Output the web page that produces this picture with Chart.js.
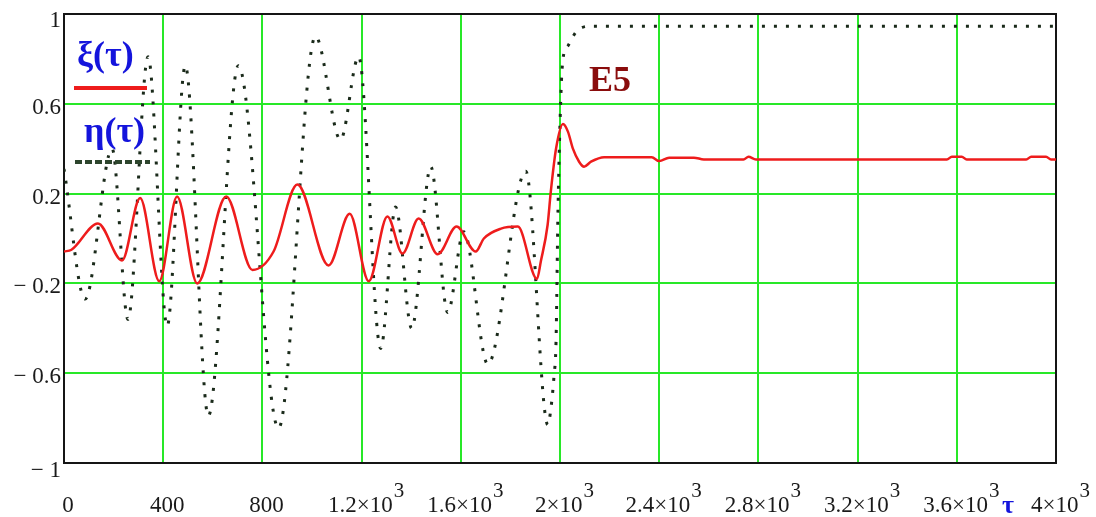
<!DOCTYPE html>
<html><head><meta charset="utf-8">
<script src="https://cdn.jsdelivr.net/npm/chart.js@4.4.0/dist/chart.umd.min.js"></script>
<style>html,body{margin:0;padding:0;background:#fff;}canvas{display:block;}</style>
</head><body>
<canvas id="c" width="1096" height="517" style="width:1096px;height:517px"></canvas>
<script>
// ξ(τ) — solid red
const tauXi = [0, 30, 137, 234, 307, 384, 456, 537, 654, 760, 845, 941, 1067, 1152, 1229, 1304, 1365, 1430, 1507, 1583, 1660, 1693, 1762, 1830, 1907, 1923, 1950, 1963, 1984, 2012, 2032, 2052, 2077, 2097, 2125, 2178, 2370, 2400, 2440, 2540, 2580, 2740, 2760, 2790, 3560, 3580, 3620, 3640, 3880, 3900, 3960, 3980, 4000];
const xi = [-0.058, -0.05, 0.067, -0.098, 0.18, -0.19, 0.187, -0.2, 0.187, -0.14, -0.058, 0.24, -0.12, 0.11, -0.19, 0.098, -0.067, 0.089, -0.07, 0.053, -0.058, 0.0, 0.044, 0.053, -0.18, -0.1, 0.06, 0.21, 0.4, 0.51, 0.476, 0.4, 0.342, 0.32, 0.342, 0.362, 0.362, 0.345, 0.36, 0.36, 0.352, 0.352, 0.364, 0.352, 0.352, 0.364, 0.364, 0.352, 0.352, 0.364, 0.364, 0.352, 0.352];
// η(τ) — dotted
const tauEta = [0, 85, 194, 258, 339, 416, 489, 582, 703, 865, 1014, 1115, 1188, 1277, 1337, 1402, 1479, 1547, 1612, 1709, 1862, 1951, 1963, 1976, 1984, 1992, 2004, 2012, 2033, 2065, 2113, 4000];
const eta = [0.31, -0.27, 0.40, -0.36, 0.81, -0.39, 0.77, -0.79, 0.77, -0.845, 0.90, 0.44, 0.81, -0.49, 0.14, -0.40, 0.32, -0.33, 0.03, -0.56, 0.30, -0.83, -0.76, -0.61, -0.46, 0.13, 0.65, 0.80, 0.86, 0.92, 0.945, 0.945];

const xTickValues = [0, 400, 800, 1200, 1600, 2000, 2400, 2800, 3200, 3600, 4000];
const xTickBase = ['0', '400', '800', '1.2×10', '1.6×10', '2×10', '2.4×10', '2.8×10', '3.2×10', '3.6×10', '4×10'];
const xTickSup = ['', '', '', '3', '3', '3', '3', '3', '3', '3', '3'];
const yTickValues = [-1, -0.6, -0.2, 0.2, 0.6, 1];
const yTickLabels = ['− 1', '− 0.6', '− 0.2', '0.2', '0.6', '1'];
const seriesNames = ['ξ(τ)', 'η(τ)'];
const axisName = 'τ';
const annotationText = 'E5';

const GREEN = 'rgb(40,232,40)';
const SERIF = '"Liberation Serif", "DejaVu Serif", serif';

const decor = {
  id: 'decor',
  beforeDatasetsDraw(chart) {
    const ctx = chart.ctx, a = chart.chartArea;
    ctx.save();
    ctx.strokeStyle = '#151515';
    ctx.lineWidth = 2;
    ctx.strokeRect(a.left, a.top, a.right - a.left, a.bottom - a.top);
    ctx.restore();
  },
  afterDraw(chart) {
    const ctx = chart.ctx, xs = chart.scales.x, ys = chart.scales.y;
    ctx.save();
    ctx.fillStyle = '#1a1a1a';
    ctx.textBaseline = 'alphabetic';
    // y labels
    ctx.font = '23px ' + SERIF;
    ctx.textAlign = 'right';
    yTickValues.forEach((v, i) => {
      let py = ys.getPixelForValue(v) + 10;
      if (i === yTickValues.length - 1) py += 3;
      if (i === 0) py += 4;
      ctx.fillText(yTickLabels[i], 61, py);
    });
    // x labels
    ctx.textAlign = 'left';
    xTickValues.forEach((v, i) => {
      const px = xs.getPixelForValue(v) + 4;
      ctx.font = '23px ' + SERIF;
      const wb = ctx.measureText(xTickBase[i]).width;
      ctx.font = '21px ' + SERIF;
      const ws = xTickSup[i] ? ctx.measureText(xTickSup[i]).width : 0;
      const x0 = px - (wb + ws) / 2;
      ctx.font = '23px ' + SERIF;
      ctx.fillText(xTickBase[i], x0, 512);
      if (xTickSup[i]) {
        ctx.font = '21px ' + SERIF;
        ctx.fillText(xTickSup[i], x0 + wb + 1, 497);
      }
    });
    // axis name τ
    ctx.fillStyle = '#1414dc';
    ctx.font = 'bold 26px ' + SERIF;
    ctx.fillText(axisName, 1002, 513);
    // legend
    ctx.font = 'bold 36px ' + SERIF;
    ctx.fillText(seriesNames[0], 77, 66);
    ctx.fillText(seriesNames[1], 84, 142);
    ctx.strokeStyle = '#ee1c1c';
    ctx.lineWidth = 4;
    ctx.beginPath(); ctx.moveTo(74, 88); ctx.lineTo(147, 88); ctx.stroke();
    ctx.strokeStyle = '#2d452d';
    ctx.setLineDash([7, 3]);
    ctx.beginPath(); ctx.moveTo(75, 162); ctx.lineTo(150, 162); ctx.stroke();
    ctx.setLineDash([]);
    // annotation
    ctx.fillStyle = '#8a0c0c';
    ctx.font = 'bold 36px ' + SERIF;
    ctx.fillText(annotationText, 589, 91);
    ctx.restore();
  }
};

new Chart(document.getElementById('c'), {
  type: 'line',
  data: {
    datasets: [
      {
        label: seriesNames[0],
        data: tauXi.map((t, i) => ({ x: t, y: xi[i] })),
        borderColor: '#ee1c1c',
        borderWidth: 2.5,
        pointRadius: 0,
        fill: false,
        cubicInterpolationMode: 'monotone',
        order: 1
      },
      {
        label: seriesNames[1],
        data: tauEta.map((t, i) => ({ x: t, y: eta[i] })),
        borderColor: '#1a2a1a',
        borderWidth: 3,
        borderDash: [3, 9],
        borderCapStyle: 'butt',
        pointRadius: 0,
        fill: false,
        cubicInterpolationMode: 'monotone',
        order: 2
      }
    ]
  },
  options: {
    responsive: false,
    devicePixelRatio: 1,
    animation: false,
    layout: { padding: { left: 64, top: 14, right: 40, bottom: 54 } },
    plugins: { legend: { display: false }, tooltip: { enabled: false } },
    scales: {
      x: {
        type: 'linear', min: 0, max: 4000,
        afterBuildTicks: s => { s.ticks = xTickValues.map(v => ({ value: v })); },
        ticks: { display: false },
        grid: { color: GREEN, lineWidth: 2, drawTicks: false },
        border: { display: false }
      },
      y: {
        type: 'linear', min: -1, max: 1,
        afterBuildTicks: s => { s.ticks = yTickValues.map(v => ({ value: v })); },
        ticks: { display: false },
        grid: { color: GREEN, lineWidth: 2, drawTicks: false },
        border: { display: false }
      }
    }
  },
  plugins: [decor]
});
</script>
</body></html>
